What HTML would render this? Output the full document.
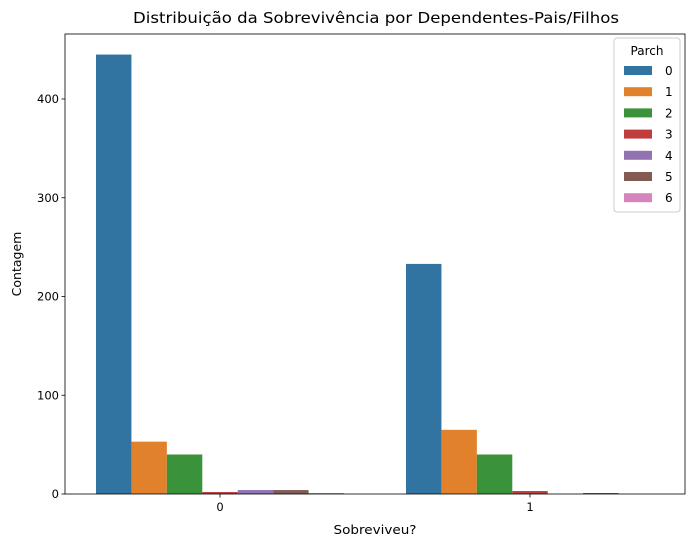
<!DOCTYPE html>
<html><head><meta charset="utf-8"><style>
body{margin:0;background:#fff;font-family:"Liberation Sans","DejaVu Sans",sans-serif;}
svg text{font-family:"DejaVu Sans","Liberation Sans",sans-serif;}
</style></head><body>
<svg id="chart" width="695" height="548">
<text x="376" y="23" font-size="15.5" text-anchor="middle" textLength="486" lengthAdjust="spacingAndGlyphs">Distribuição da Sobrevivência por Dependentes-Pais/Filhos</text>
<g id="bars"></g>
<g id="axes"></g>
<text x="375" y="534" font-size="12.5" text-anchor="middle" textLength="83" lengthAdjust="spacingAndGlyphs">Sobreviveu?</text>
<text transform="translate(21,264) rotate(-90)" font-size="12.5" text-anchor="middle">Contagem</text>
<g id="legend"></g>
</svg>
<script>
const categories=["0","1"];
const hues=["0","1","2","3","4","5","6"];
const values0=[445,53,40,2,4,4,1];
const values1=[233,65,40,3,0,1,0];
const yTicks=[0,100,200,300,400];
const colors=["#3274a1","#e1812c","#3a923a","#c03d3e","#9372b2","#845b53","#d684bd"];
const series=[values0,values1];
const L=65,R=685,T=34,B=494;
const ns="http://www.w3.org/2000/svg";
function y(v){return B-v*(395/400);}
function xc(i){return L+(R-L)/categories.length*(i+0.5);}
const bw=(R-L)/categories.length*0.8/hues.length;
function mk(tag,attrs,parent){const e=document.createElementNS(ns,tag);for(const k in attrs)e.setAttribute(k,attrs[k]);parent.appendChild(e);return e;}
const gb=document.getElementById('bars');
series.forEach((vals,ci)=>{vals.forEach((v,hi)=>{
 const x0=xc(ci)-bw*hues.length/2+hi*bw;
 const r=mk('rect',{x:x0,y:y(v),width:bw,height:B-y(v),fill:colors[hi]},gb);
 
 
});});
const ga=document.getElementById('axes');
const fr=mk('rect',{x:L,y:T,width:R-L,height:B-T,fill:'none',stroke:'#000','stroke-width':0.8},ga);


yTicks.forEach(t=>{
 mk('line',{x1:L-3.5,x2:L,y1:y(t),y2:y(t),stroke:'#000','stroke-width':0.8},ga);
 const tx=mk('text',{x:L-6,y:y(t)+4,'font-size':11.5,'text-anchor':'end'},ga);tx.textContent=t;
 
 
});
categories.forEach((c,i)=>{
 mk('line',{x1:xc(i),x2:xc(i),y1:B,y2:B+3.5,stroke:'#000','stroke-width':0.8},ga);
 const tx=mk('text',{x:xc(i),y:B+17,'font-size':11.5,'text-anchor':'middle'},ga);tx.textContent=c;
 
 
});
const gl=document.getElementById('legend');
const lb=mk('rect',{x:614,y:38,width:66,height:174,rx:3,fill:'#fff',stroke:'#ccc','stroke-width':1},gl);


const lt=mk('text',{x:647,y:55,'font-size':12,'text-anchor':'middle'},gl);lt.textContent='Parch';


hues.forEach((h,i)=>{
 const yy=66+i*21.2;
 const sw=mk('rect',{x:624,y:yy,width:28,height:9,fill:colors[i]},gl);
 
 
 const t=mk('text',{x:665,y:yy+9,'font-size':12},gl);t.textContent=h;
 
 
});
</script>
</body></html>
